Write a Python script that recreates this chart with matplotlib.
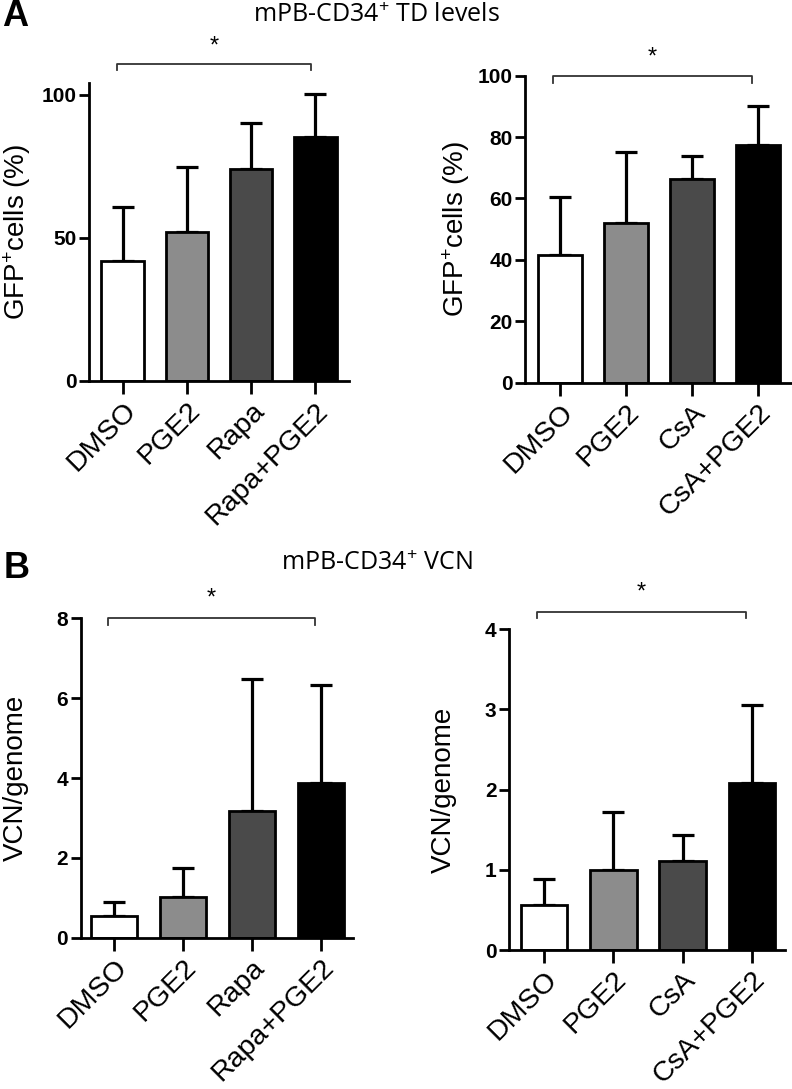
import numpy as np
import matplotlib
matplotlib.use("Agg")
import matplotlib.pyplot as plt

plt.rcParams["font.family"] = ["Liberation Sans", "DejaVu Sans"]
plt.rcParams["mathtext.fontset"] = "custom"
plt.rcParams["mathtext.rm"] = "Liberation Sans"
plt.rcParams["mathtext.it"] = "Liberation Sans:italic"
plt.rcParams["mathtext.bf"] = "Liberation Sans:bold"

# data
cats_rapa = ["DMSO", "PGE2", "Rapa", "Rapa+PGE2"]
cats_csa = ["DMSO", "PGE2", "CsA", "CsA+PGE2"]

td_rapa = [42.0, 52.0, 74.3, 85.3]
td_rapa_err = [18.8, 22.9, 15.9, 14.9]
td_csa = [41.5, 51.9, 66.4, 77.3]
td_csa_err = [19.1, 23.1, 7.5, 12.9]

vcn_rapa = [0.55, 1.01, 3.18, 3.88]
vcn_rapa_err = [0.34, 0.74, 3.29, 2.44]
vcn_csa = [0.56, 1.00, 1.11, 2.08]
vcn_csa_err = [0.32, 0.72, 0.32, 0.97]

bar_colors = ["white", "#8c8c8c", "#4a4a4a", "black"]

W, H = 792, 1089


def px_axes(fig, x0, x1, y_top, y_bot):
    return fig.add_axes([x0 / W, 1 - y_bot / H, (x1 - x0) / W, (y_bot - y_top) / H])


def bar_panel(ax, cats, vals, errs, ylim, yticks, ylabel, xlim, labelpad):
    x = np.arange(len(cats))
    ax.errorbar(x, vals, yerr=[np.zeros(len(vals)), errs], fmt="none",
                ecolor="black", elinewidth=2.3, capsize=8, capthick=2.3, zorder=1)
    ax.bar(x, vals, width=0.67, color=bar_colors, edgecolor="black",
           linewidth=2.0, zorder=2)
    ax.set_xlim(*xlim)
    ax.set_ylim(*ylim)
    ax.set_yticks(yticks)
    ax.set_xticks(x)
    ax.set_xticklabels(cats, rotation=45, ha="right", va="top",
                       rotation_mode="anchor", fontsize=20.5)
    for lab in ax.get_yticklabels():
        lab.set_fontweight("bold")
        lab.set_fontsize(15)
    ax.set_ylabel(ylabel, fontsize=20, labelpad=labelpad)
    for s in ["top", "right"]:
        ax.spines[s].set_visible(False)
    for s in ["left", "bottom"]:
        ax.spines[s].set_linewidth(2.0)
    ax.tick_params(axis="both", width=2.0, length=7, pad=2)
    ax.tick_params(axis="x", length=9, pad=3)


def bracket(ax, x0, x1, y, drop, star_y):
    ax.plot([x0, x0, x1, x1], [y - drop, y, y, y - drop], color="#333333",
            linewidth=1.3, clip_on=False)
    ax.text((x0 + x1) / 2, star_y, "*", ha="center", va="center",
            fontsize=17, clip_on=False)


fig = plt.figure(figsize=(W / 100, H / 100), dpi=100)

ax1 = px_axes(fig, 89, 349, 82.7, 381)
bar_panel(ax1, cats_rapa, td_rapa, td_rapa_err, (0, 104.3), [0, 50, 100],
          "GFP$^{+}$cells (%)", (-0.53, 3.53), 6)
bracket(ax1, -0.1, 2.94, 110.8, 2.2, 117.0)

ax2 = px_axes(fig, 525, 791, 75.7, 382.7)
bar_panel(ax2, cats_csa, td_csa, td_csa_err, (0, 100), [0, 20, 40, 60, 80, 100],
          "GFP$^{+}$cells (%)", (-0.53, 3.5), 4)
bracket(ax2, -0.11, 2.91, 100, 2.4, 106.0)

ax3 = px_axes(fig, 80.7, 353, 618.3, 937.7)
bar_panel(ax3, cats_rapa, vcn_rapa, vcn_rapa_err, (0, 8), [0, 2, 4, 6, 8],
          "VCN/genome", (-0.49, 3.47), 20)
bracket(ax3, -0.09, 2.92, 8.0, 0.17, 8.5)

ax4 = px_axes(fig, 509, 785, 629.3, 950)
bar_panel(ax4, cats_csa, vcn_csa, vcn_csa_err, (0, 4), [0, 1, 2, 3, 4],
          "VCN/genome", (-0.51, 3.48), 20)
bracket(ax4, -0.1, 2.91, 4.22, 0.08, 4.46)

# titles and panel letters
fig.text(376 / W, 1 - 15 / H, "mPB-CD34$^{+}$ TD levels", ha="center",
         va="center", fontsize=18, family=["Open Sans", "DejaVu Sans"])
fig.text(377 / W, 1 - 563 / H, "mPB-CD34$^{+}$ VCN", ha="center",
         va="center", fontsize=18, family=["Open Sans", "DejaVu Sans"])
fig.text(2 / W, 1 - 16 / H, "A", ha="left", va="center", fontsize=26,
         fontweight="bold")
fig.text(4 / W, 1 - 569 / H, "B", ha="left", va="center", fontsize=26,
         fontweight="bold")

fig.savefig("out.png", dpi=100)
